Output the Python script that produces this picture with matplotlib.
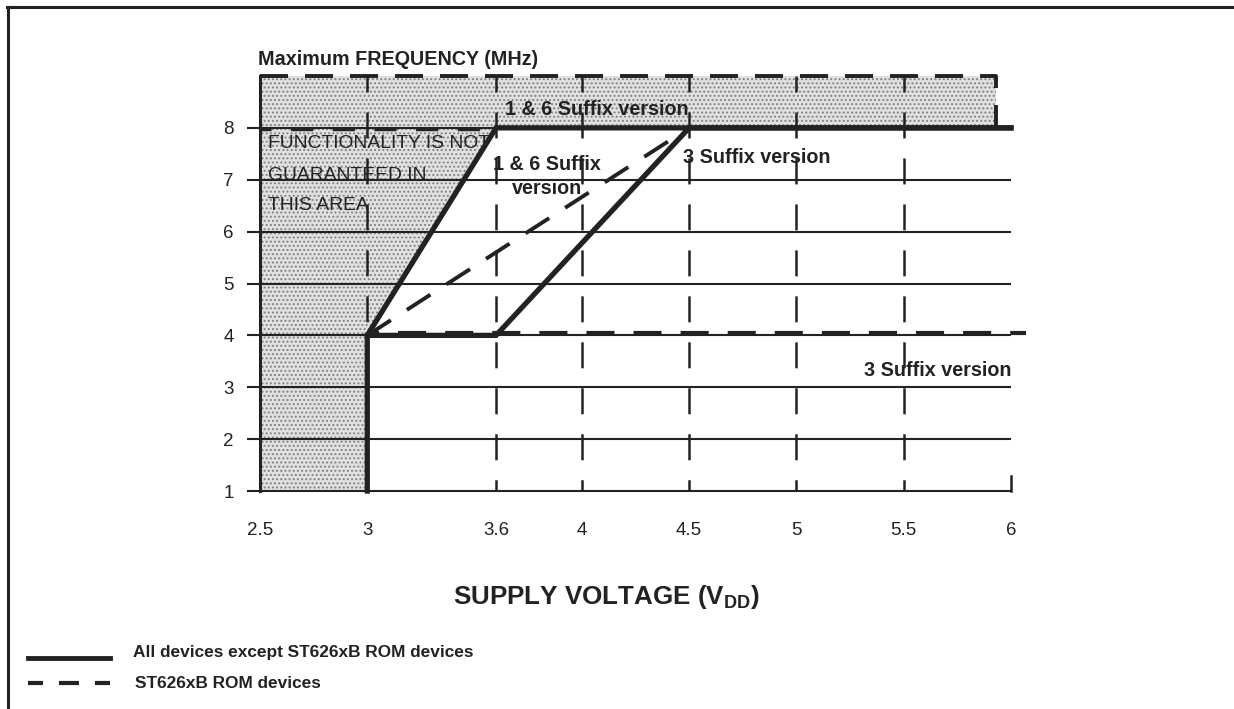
import matplotlib
matplotlib.use("Agg")
import matplotlib.pyplot as plt
from matplotlib.lines import Line2D

plt.rcParams['font.family'] = ['Liberation Sans', 'DejaVu Sans']
plt.rcParams['mathtext.fontset'] = 'custom'
plt.rcParams['mathtext.rm'] = 'Liberation Sans'
plt.rcParams['mathtext.bf'] = 'Liberation Sans:bold'
plt.rcParams['lines.scale_dashes'] = False
plt.rcParams['hatch.linewidth'] = 0.9

INK = '#222222'

# axis values
volt_ticks = [2.5, 3, 3.6, 4, 4.5, 5, 5.5, 6]
volt_labels = ['2.5', '3', '3.6', '4', '4.5', '5', '5.5', '6']
freq_ticks = [1, 2, 3, 4, 5, 6, 7, 8]
grid_volts = [3, 3.6, 4, 4.5, 5, 5.5]

# all devices except ST626xB ROM (solid)
volt_16 = [3.0, 3.0, 3.6, 6.0]
freq_16 = [1, 4, 8, 8]
volt_3 = [3.0, 3.6, 4.5, 6.0]
freq_3 = [4, 4, 8, 8]

# ST626xB ROM devices (dashed)
rom_volt_16 = [3.0, 4.5]
rom_freq_16 = [4, 8]
rom_volt_3 = [3.0, 6.07]
rom_freq_3 = [4.05, 4.05]
rom_box_volt = [2.5, 5.93, 5.93]
rom_box_freq = [9, 9, 8]
rom_low_volt = [2.5, 3.6]
rom_low_freq = [7.97, 7.97]

# area where operation is not guaranteed
na_volt = [2.5, 3.0, 3.0, 3.6, 5.93, 5.93, 2.5]
na_freq = [1, 1, 4, 8, 8, 9, 9]

W, H = 1234, 709
fig = plt.figure(figsize=(W / 100, H / 100), dpi=100)
ax = fig.add_axes([260 / W, 1 - 491 / H, 751 / W, 415 / H])
ax.set_xlim(2.5, 6)
ax.set_ylim(1, 9)
for s in ax.spines.values():
    s.set_visible(False)

# stippled grey: flat fill plus a dot hatch on top
ax.fill(na_volt, na_freq, facecolor='#e0e0e0', edgecolor='none',
        linewidth=0, zorder=1)
ax.fill(na_volt, na_freq, facecolor='none', edgecolor='#808080',
        hatch='....', linewidth=0, zorder=1)

# horizontal grid with left ticks
ax.hlines(freq_ticks, 2.44, 6.0, color=INK, lw=1.5, zorder=2, clip_on=False)
ax.plot([2.5, 2.5], [1, 9], color=INK, lw=2.2, zorder=3, clip_on=False)
ax.plot([6.0, 6.0], [1, 1.29], color=INK, lw=1.8, zorder=3, clip_on=False)

# vertical dashed grid
for v in grid_volts:
    ax.plot([v, v], [9, 1], color=INK, lw=1.8, zorder=2,
            linestyle=(7.2, (18.7, 14.4)), clip_on=False)

# ST626xB ROM curves
ax.plot(rom_volt_3, rom_freq_3, color=INK, lw=3.0, zorder=4,
        linestyle=(11.5, (20.2, 13.7)), clip_on=False)
ax.plot(rom_volt_16, rom_freq_16, color=INK, lw=2.8, zorder=4,
        linestyle=(0, (20.2, 13.7)))
ax.plot(rom_box_volt, rom_box_freq, color=INK, lw=2.8, zorder=4,
        linestyle=(0, (20.2, 12.2)), clip_on=False)
ax.plot(rom_low_volt, rom_low_freq, color=INK, lw=2.5, zorder=4,
        linestyle=(8, (16, 14)))

# standard device curves
ax.plot(volt_16, freq_16, color=INK, lw=3.8, zorder=5,
        solid_joinstyle='miter', clip_on=False)
ax.plot(volt_3, freq_3, color=INK, lw=3.8, zorder=5,
        solid_joinstyle='miter', clip_on=False)

ax.set_xticks(volt_ticks, volt_labels)
ax.set_yticks(freq_ticks, [str(f) for f in freq_ticks])
ax.tick_params(axis='x', length=0, pad=22, labelsize=13.5, labelcolor=INK)
ax.tick_params(axis='y', length=0, pad=19, labelsize=13.5, labelcolor=INK)

ax.text(2.49, 9.31, 'Maximum FREQUENCY (MHz)', fontsize=14.2,
        fontweight='bold', color=INK, va='center', ha='left', clip_on=False)
ax.text(3.64, 8.35, '1 & 6 Suffix version', fontsize=14.2,
        fontweight='bold', color=INK, va='center', ha='left')
ax.text(3.837, 7.06, '1 & 6 Suffix\nversion', fontsize=14.2,
        fontweight='bold', color=INK, va='center', ha='center',
        linespacing=1.38)
ax.text(4.471, 7.42, '3 Suffix version', fontsize=14.2,
        fontweight='bold', color=INK, va='center', ha='left', zorder=6)
ax.text(6.004, 3.33, '3 Suffix version', fontsize=14.2,
        fontweight='bold', color=INK, va='center', ha='right', zorder=6)
for txt, fy in [('FUNCTIONALITY IS NOT', 143), ('GUARANTEED IN', 175),
                ('THIS AREA', 205)]:
    ax.text(2.537, 1 + (491 - fy) / 51.875, txt, fontsize=13.9,
            color=INK, va='center', ha='left', zorder=6)

fig.text(606 / W, 1 - 597 / H, r'SUPPLY VOLTAGE (V$_{\mathbf{DD}}$)',
         fontsize=18.7, fontweight='bold', color=INK, ha='center', va='center')

# legend
fig.add_artist(Line2D([28 / W, 110 / W], [1 - 658 / H] * 2, color=INK,
                      lw=3.5, transform=fig.transFigure))
fig.add_artist(Line2D([28 / W, 110 / W], [1 - 683 / H] * 2, color=INK,
                      lw=3.0, linestyle=(3.6, (14.4, 11.5)),
                      transform=fig.transFigure))
fig.text(133 / W, 1 - 653 / H, 'All devices except ST626xB ROM devices',
         fontsize=12.4, fontweight='bold', color=INK, va='center')
fig.text(135 / W, 1 - 683 / H, 'ST626xB ROM devices',
         fontsize=12.4, fontweight='bold', color=INK, va='center')

# page frame
fig.add_artist(Line2D([7 / W, 1.0], [1 - 7 / H] * 2, color=INK, lw=2.2,
                      transform=fig.transFigure))
fig.add_artist(Line2D([8 / W, 8 / W], [1 - 7 / H, 0], color=INK, lw=2.2,
                      transform=fig.transFigure))

fig.savefig('out.png', dpi=100)
